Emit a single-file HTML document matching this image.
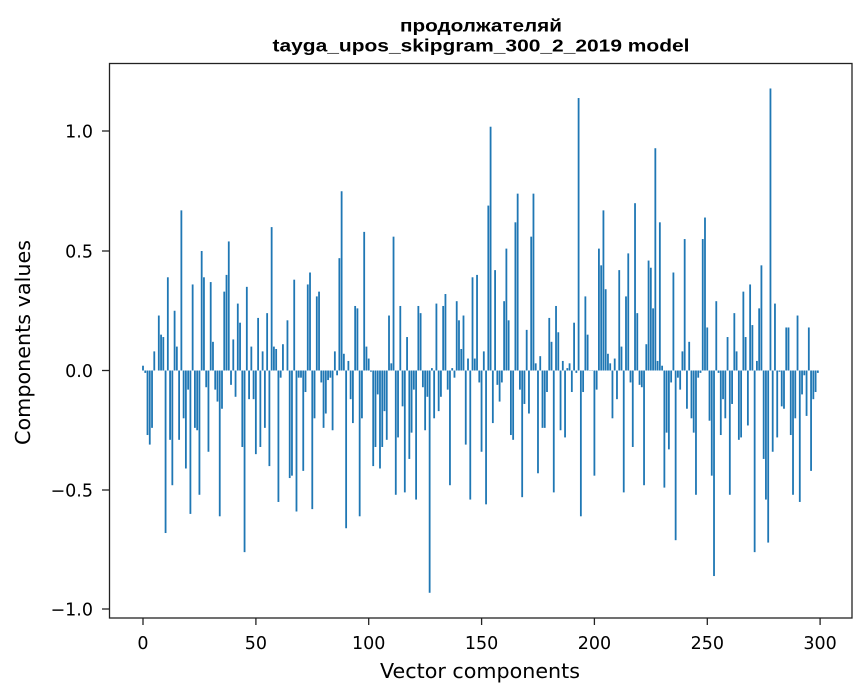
<!DOCTYPE html>
<html><head><meta charset="utf-8"><style>
html,body{margin:0;padding:0;background:#fff;}
svg{display:block;font-family:"DejaVu Sans","Liberation Sans",sans-serif;}
</style></head><body>
<svg id="s" width="867" height="696" viewBox="0 0 867 696" xmlns="http://www.w3.org/2000/svg">
<rect width="867" height="696" fill="#fff"/>
<g id="bars" fill="#1f77b4"></g>
<rect x="109.5" y="63.5" width="742.5" height="554.5" fill="none" stroke="#222" stroke-width="1.3"/>
<g stroke="#222" stroke-width="1.3">
<line x1="102" x2="109" y1="131" y2="131"/><line x1="102" x2="109" y1="251" y2="251"/><line x1="102" x2="109" y1="370.5" y2="370.5"/><line x1="102" x2="109" y1="490" y2="490"/><line x1="102" x2="109" y1="609" y2="609"/>
<line x1="143" x2="143" y1="618" y2="625"/><line x1="255.9" x2="255.9" y1="618" y2="625"/><line x1="368.7" x2="368.7" y1="618" y2="625"/><line x1="481.6" x2="481.6" y1="618" y2="625"/><line x1="594.4" x2="594.4" y1="618" y2="625"/><line x1="707.3" x2="707.3" y1="618" y2="625"/><line x1="820.1" x2="820.1" y1="618" y2="625"/>
</g>
<g font-size="17.5" fill="#000" text-anchor="end">
<text x="93" y="137.5">1.0</text><text x="93" y="257.5">0.5</text><text x="93" y="377">0.0</text><text x="93" y="496.5">−0.5</text><text x="93" y="615.5">−1.0</text>
</g>
<g font-size="17.5" fill="#000" text-anchor="middle">
<text x="143" y="649">0</text><text x="255.9" y="649">50</text><text x="368.7" y="649">100</text><text x="481.6" y="649">150</text><text x="594.4" y="649">200</text><text x="707.3" y="649">250</text><text x="820.1" y="649">300</text>
</g>
<text x="380" y="678" font-size="20.5" textLength="200" lengthAdjust="spacingAndGlyphs">Vector components</text>
<text transform="translate(30,445) rotate(-90)" font-size="20.5" textLength="205" lengthAdjust="spacingAndGlyphs">Components values</text>
<g font-family="Liberation Sans, sans-serif" font-weight="bold" font-size="17.5" fill="#000">
<text x="400" y="31.5" textLength="162" lengthAdjust="spacingAndGlyphs">продолжателяй</text>
<text x="272.5" y="51.5" textLength="417" lengthAdjust="spacingAndGlyphs">tayga_upos_skipgram_300_2_2019 model</text>
</g>
</svg>
<script>
(function(){
var Z=[[138,[14,.02,22,-.01,30,-.27,36,-.31,42,-.24,49,.08,62,.23,68,.15,76,.14,84,-.68,90,.39,96,-.29,103,-.48,111,.25,117,.1,123,-.29,131,.67,138,-.2,144,-.41,150,-.08,158,-.6,165,.36,171,-.24,178,-.25,185,-.52,192,.5,198,.39,205,-.07,212,-.34,219,.37,225,.12,232,-.08,239,-.13,245,-.61,251,-.16,259,.33,266,.4,272,.54,279,-.06,286,.13,293,-.11,299,.28,306,.2,313,-.32,320,-.76,326,.35,333,-.12,340,.1,347,-.12,353,-.35,360,.22,367,-.32,374,.08,381,-.24,387,.24,395,-.4,401,.6,408,.1,414,.09,423,-.55,430,-.03,438,.11,450,.21,456,-.45,462,-.44,469,.38,477,-.59,483,-.03,490,-.03,496,-.42,503,-.09,509,.36,516,.41,523,-.58]],
[308,[20,-.2,27,.31,33,.33,40,-.05,47,-.24,54,-.18,60,-.04,67,-.03,74,-.25,81,.08,87,-.02,94,.47,101,.75,107,.07,114,-.66,121,.04,128,-.12,134,-.22,141,.27,148,.26,155,-.61,161,-.2,168,.58,176,.1,182,.05,189,-.005,195,-.4,203,-.32,209,-.1,215,-.41,223,-.32,230,-.17,236,-.29,243,.23,250,.03,257,.56,264,-.52,270,-.28,277,.27,284,-.15,291,-.51,297,.14,304,-.37,311,-.26,318,-.08,324,-.54,331,.27,339,.24,345,-.07,351,-.25,358,-.11,365,-.93,372,.01,378,-.2,385,.28,392,-.17,399,-.11,405,.27,412,.32,419,-.08,426,-.48,432,.01,439,-.03,447,.29,453,.21,459,.09,467,.23,474,-.31,480,.05,487,-.54,494,.39,500,.05,507,.4,514,-.05,521,-.34]],
[478,[17,.08,24,-.56,31,.69,38,1.02,44,-.22,51,.42,58,-.06,65,-.13,71,-.05,78,.29,85,.51,92,.21,98,-.27,105,-.29,112,.62,119,.74,125,-.08,131,-.53,139,-.14,146,.17,153,-.18,159,.56,166,.74,173,.03,180,-.43,186,.06,193,-.24,200,-.24,206,-.09,213,.22,221,.12,228,-.51,234,.27,240,.16,248,-.25,255,.04,261,-.28,267,.01,275,.03,282,-.09,288,.2,295,-.01,302,1.14,309,-.61,315,-.09,322,.31,329,.15,336,0,343,0,349,-.44,356,-.08,362,.51,368,.44,376,.67,383,.34,390,.07,396,.03,403,-.2,410,.05,416,-.12,422,.42,430,.1,437,-.51,443,.31,449,.49,457,-.05,464,-.32,470,.7,477,.24,484,-.06,491,-.07,497,-.48,504,.11,511,.46,518,.43]],
[648,[15,.26,21,.93,30,.04,36,.62,43,.02,49,-.49,57,-.26,63,-.33,69,-.05,76,.41,84,-.71,90,-.03,96,-.08,103,.08,110,.55,116,-.16,123,.12,130,-.2,138,-.26,144,-.52,150,-.03,157,-.01,164,.55,171,.64,177,.18,184,-.21,191,-.44,197,-.86,204,.29,211,-.01,218,-.27,225,-.12,231,-.2,238,.14,245,-.52,251,-.14,258,.24,265,.08,272,-.29,278,-.28,285,.33,293,.14,299,-.23,306,.36,312,.19,321,-.76,327,.04,333,.26,340,.44,348,-.37,354,-.54,360,-.72,367,1.18,375,-.34,381,.28,387,-.28,394,-.005,401,-.15,407,-.16,413,.18,421,.18,428,-.27,434,-.52,440,-.2,448,.23,455,-.55,462,-.1,468,-.02,475,-.19,482,.18,489,-.42,495,-.12,502,-.09,510,-.01]]];
var vals=[];
for(var q=0;q<Z.length;q++){var x0=Z[q][0],a=Z[q][1];for(var k=0;k<a.length;k+=2){var i=Math.round((x0+a[k]/3-143)/2.257);if(i>=0&&i<300)vals[i]=a[k+1];}}
var g=document.getElementById('bars');
var NS="http://www.w3.org/2000/svg";
for(var j=0;j<300;j++){var v=vals[j];if(typeof v!=="number")continue;
var r=document.createElementNS(NS,"rect");
var x=143+j*2.257-0.9,y=370.5-v*239;
r.setAttribute("x",x.toFixed(2));
r.setAttribute("y",Math.min(y,370.5).toFixed(2));
r.setAttribute("width","1.8");
r.setAttribute("height",Math.max(Math.abs(v*239),0.3).toFixed(2));
g.appendChild(r);}
})();
</script>
</body></html>
